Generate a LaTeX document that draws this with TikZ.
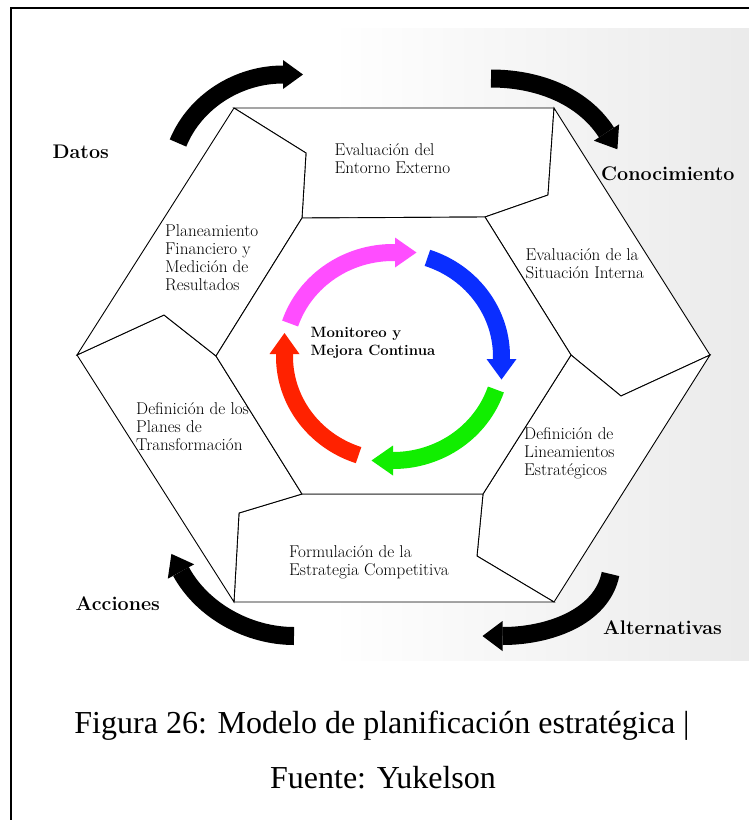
\documentclass[tikz,border=0pt]{standalone}
\usepackage{fontspec}
\newfontfamily\capfont{Liberation Serif}
\usetikzlibrary{calc}
\definecolor{ringmag}{HTML}{FF4DFF}
\definecolor{ringblue}{HTML}{0A2EFF}
\definecolor{ringgreen}{HTML}{11EE00}
\definecolor{ringred}{HTML}{FF2200}
\tikzset{
  blockface/.style={draw=black, line width=0.9pt, fill=white, line join=miter},
  blocktext/.style={font=\fontsize{17.1}{17.8}\selectfont, align=left, anchor=base west, inner sep=0pt},
  centertext/.style={font=\bfseries\fontsize{14.9}{17.3}\selectfont, align=left, anchor=base west, inner sep=0pt},
  sidelabel/.style={font=\bfseries\fontsize{19.7}{22}\selectfont, anchor=base west, inner sep=0pt},
  captiontext/.style={font=\capfont\fontsize{32}{38}\selectfont, anchor=base, inner sep=0pt},
  bigshaft/.style={line width=18pt, black, line cap=butt},
  ringshaft/.style={line width=17pt, line cap=butt},
}
\begin{document}
\begin{tikzpicture}[x=1pt, y=-1pt]
\useasboundingbox (0,0) rectangle (749,820);
\fill[white] (0,0) rectangle (749,820);
% soft grey backdrop behind the diagram
\shade[left color=white, right color=gray!16] (330,28) rectangle (749,660);
% page frame
\coordinate (FrA) at (11,820);
\coordinate (FrB) at (11,8);
\coordinate (FrC) at (749,8);
\draw[line width=2pt] (FrA) -- (FrB) -- (FrC);

% hexagon corners: outer, inner and the kinks between segments
\coordinate (O1) at (234,108);
\coordinate (O2) at (554,108);
\coordinate (O3) at (710,355);
\coordinate (O4) at (554,602);
\coordinate (O5) at (234,602);
\coordinate (O6) at (77,355);
\coordinate (I1) at (302,218);
\coordinate (I2) at (485,217);
\coordinate (I3) at (571,355);
\coordinate (I4) at (483,494);
\coordinate (I5) at (302,494);
\coordinate (I6) at (216,356);
\coordinate (K1) at (306,153);
\coordinate (K2) at (548,195);
\coordinate (K3) at (621,396);
\coordinate (K4) at (477,556);
\coordinate (K5) at (239,513);
\coordinate (K6) at (164,315);

% the six segments of the ring
\draw[blockface] (O1) -- (O2) -- (K2) -- (I2) -- (I1) -- (K1) -- cycle;
\draw[blockface] (O2) -- (O3) -- (K3) -- (I3) -- (I2) -- (K2) -- cycle;
\draw[blockface] (O3) -- (O4) -- (K4) -- (I4) -- (I3) -- (K3) -- cycle;
\draw[blockface] (O4) -- (O5) -- (K5) -- (I5) -- (I4) -- (K4) -- cycle;
\draw[blockface] (O5) -- (O6) -- (K6) -- (I6) -- (I5) -- (K5) -- cycle;
\draw[blockface] (O6) -- (O1) -- (K1) -- (I1) -- (I6) -- (K6) -- cycle;

% segment texts (placed by the baseline of their last line)
\node[blocktext] (tExt) at (334.5,173.3) {Evaluación del\\Entorno Externo};
\node[blocktext] (tInt) at (525.5,278.3) {Evaluación de la\\Situación Interna};
\node[blocktext] (tLin) at (524,475.5) {Definición de\\Lineamientos\\Estratégicos};
\node[blocktext] (tFor) at (289,575.7) {Formulación de la\\Estrategia Competitiva};
\node[blocktext] (tPla) at (136,450) {Definición de los\\Planes de\\Transformación};
\node[blocktext] (tFin) at (165,290) {Planeamiento\\Financiero y\\Medición de\\Resultados};

% inner hexagon
\draw[blockface] (I1) -- (I2) -- (I3) -- (I4) -- (I5) -- (I6) -- cycle;

% cycle of coloured arrows
\coordinate (RC) at (393,356.5);
\draw[ringshaft, ringmag] (RC) ++(198.5:108.5 and 104) arc[start angle=198.5, end angle=271, x radius=108.5, y radius=104];
\coordinate (MgA) at (395,237.5);
\coordinate (MgB) at (395,267.5);
\coordinate (MgT) at (416.5,252.5);
\fill[ringmag] (MgA) -- (MgT) -- (MgB) -- cycle;
\draw[ringshaft, ringblue] (RC) ++(288.5:108.5 and 104) arc[start angle=288.5, end angle=361.5, x radius=108.5, y radius=104];
\coordinate (BlA) at (486.5,359);
\coordinate (BlB) at (516.5,359);
\coordinate (BlT) at (501.5,379.5);
\fill[ringblue] (BlA) -- (BlT) -- (BlB) -- cycle;
\draw[ringshaft, ringgreen] (RC) ++(18.5:108.5 and 104) arc[start angle=18.5, end angle=90, x radius=108.5, y radius=104];
\coordinate (GrA) at (393,445.5);
\coordinate (GrB) at (393,475.5);
\coordinate (GrT) at (371.5,460.5);
\fill[ringgreen] (GrA) -- (GrT) -- (GrB) -- cycle;
\draw[ringshaft, ringred] (RC) ++(108.5:108.5 and 104) arc[start angle=108.5, end angle=181.5, x radius=108.5, y radius=104];
\coordinate (RdA) at (269.5,354);
\coordinate (RdB) at (299.5,354);
\coordinate (RdT) at (284.5,333);
\fill[ringred] (RdA) -- (RdT) -- (RdB) -- cycle;

\node[centertext] (tMon) at (310.5,355) {Monitoreo y\\Mejora Continua};

% big black arrows around the hexagon
\coordinate (AaT) at (178,143);
\coordinate (AaE) at (283,74.5);
\draw[bigshaft] (AaT) .. controls (195.1,101.4) and (238,74.5) .. (AaE);
\coordinate (AaH1) at (283,60);
\coordinate (AaH2) at (283,89);
\coordinate (AaTip) at (303,74.5);
\fill[black] (AaH1) -- (AaTip) -- (AaH2) -- cycle;

\coordinate (AbT) at (491,78.5);
\coordinate (AbE) at (606.5,132.5);
\draw[bigshaft] (AbT) .. controls (536,78.5) and (582,94.7) .. (AbE);
\coordinate (AbH1) at (593.9,140.7);
\coordinate (AbH2) at (619.1,124.3);
\coordinate (AbTip) at (617.4,149.3);
\fill[black] (AbH1) -- (AbTip) -- (AbH2) -- cycle;

\coordinate (AcT) at (610.5,574);
\coordinate (AcE) at (502.5,636);
\draw[bigshaft] (AcT) .. controls (601.5,618) and (547.5,636) .. (AcE);
\coordinate (AcH1) at (502.5,621);
\coordinate (AcH2) at (502.5,651);
\coordinate (AcTip) at (482.5,636);
\fill[black] (AcH1) -- (AcTip) -- (AcH2) -- cycle;

\coordinate (AdT) at (294,636);
\coordinate (AdE) at (181,571.5);
\draw[bigshaft] (AdT) .. controls (249,636) and (202.6,611.1) .. (AdE);
\coordinate (AdH1) at (194.2,564.3);
\coordinate (AdH2) at (167.8,578.7);
\coordinate (AdTip) at (171.4,553.9);
\fill[black] (AdH1) -- (AdTip) -- (AdH2) -- cycle;

% labels of the outer cycle
\node[sidelabel] (lDat) at (52.5,158.3) {Datos};
\node[sidelabel] (lCon) at (601,180) {Conocimiento};
\node[sidelabel] (lAcc) at (75.5,610.7) {Acciones};
\node[sidelabel] (lAlt) at (603,634) {Alternativas};

% caption
\node[captiontext] (cap1) at (382,733.3) {Figura 26: Modelo de planificación estratégica |};
\node[captiontext] (cap2) at (383,788.3) {Fuente: Yukelson};
\end{tikzpicture}
\end{document}
